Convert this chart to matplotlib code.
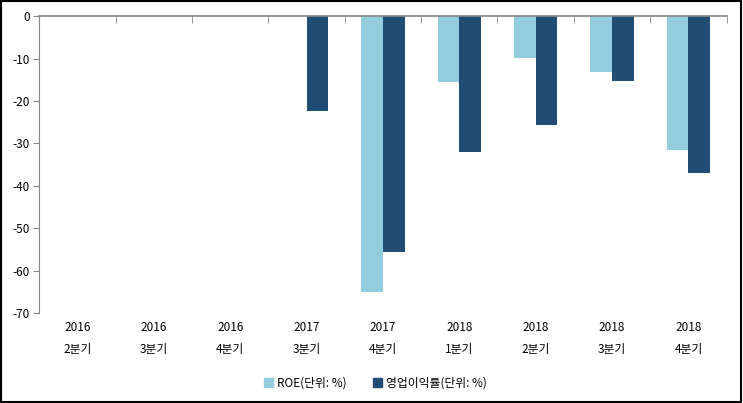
import numpy as np
import matplotlib.pyplot as plt
from matplotlib.patches import Patch, Rectangle

plt.rcParams['font.family'] = ['Noto Sans CJK KR', 'DejaVu Sans']
plt.rcParams['axes.unicode_minus'] = False

years = ['2016', '2016', '2016', '2017', '2017', '2018', '2018', '2018', '2018']
quarters = ['2분기', '3분기', '4분기', '3분기', '4분기', '1분기', '2분기', '3분기', '4분기']
roe = [np.nan, np.nan, np.nan, np.nan, -65.0, -15.4, -9.8, -13.1, -31.5]
op_margin = [np.nan, np.nan, np.nan, -22.3, -55.5, -31.9, -25.6, -15.2, -36.9]
series_names = ['ROE(단위: %)', '영업이익률(단위: %)']

c_roe = '#93CDDD'
c_op = '#214C74'
gray = '#868686'

fig = plt.figure(figsize=(7.43, 4.03), dpi=100)
ax = fig.add_axes([0.0529, 0.2233, 0.925, 0.7363])

x = np.arange(len(years))
w = 0.284
ax.bar(x - w / 2, roe, w, color=c_roe, label=series_names[0])
ax.bar(x + w / 2, op_margin, w, color=c_op, label=series_names[1])

ax.set_xlim(-0.5, len(years) - 0.5)
ax.set_ylim(-70, 0)
ax.set_yticks(np.arange(-70, 1, 10))
ax.tick_params(axis='y', direction='out', length=4, color=gray, labelsize=8.5, pad=3)

# category labels at the bottom, boundary ticks on the zero line
ax.set_xticks(x)
ax.set_xticklabels([f'{y}\n{q}' for y, q in zip(years, quarters)], fontsize=8.5, linespacing=1.9)
ax.tick_params(axis='x', which='major', length=0, pad=6)
ax.set_xticks(np.arange(-0.5, len(years), 1.0)[1:], minor=True)
ax.tick_params(axis='x', which='minor', top=True, bottom=False, direction='in',
               length=5, color=gray)

for s in ['right', 'bottom']:
    ax.spines[s].set_visible(False)
ax.spines['left'].set_color(gray)
ax.spines['top'].set_color(gray)
ax.spines['top'].set_linewidth(1.2)

handles = [Patch(color=c_roe), Patch(color=c_op)]
fig.legend(handles, series_names, loc='center', bbox_to_anchor=(0.505, 0.05), ncol=2,
           frameon=False, fontsize=8.5, handlelength=0.8, handleheight=0.8,
           handletextpad=0.3, columnspacing=2.2)

fig.patches.append(Rectangle((0.002, 0.003), 0.995, 0.994, transform=fig.transFigure,
                             fill=False, edgecolor='black', linewidth=1.5))

fig.savefig('out.png', dpi=100)
